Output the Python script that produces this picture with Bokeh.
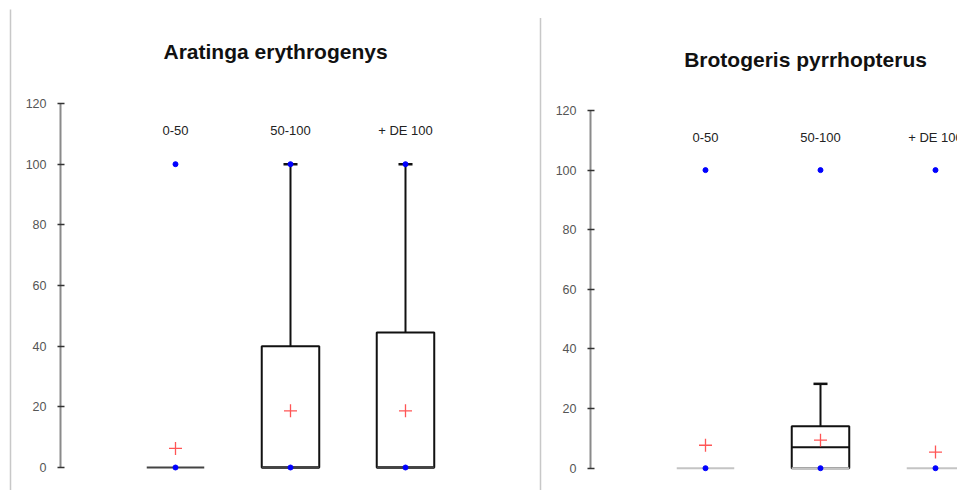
from bokeh.plotting import figure
from bokeh.layouts import row
from bokeh.models import LinearAxis, FixedTicker, Range1d
from bokeh.core.properties import value
from bokeh.embed import file_html
from bokeh.resources import INLINE

# Distance classes (m) shown on each panel
categories = ["0-50", "50-100", "+ DE 100"]
tick_values = [0, 20, 40, 60, 80, 100, 120]

# Aratinga erythrogenys: box-plot statistics per distance class
ara_q1 = [0, 0, 0]
ara_median = [0, 0, 0]
ara_q3 = [0, 40, 44.5]
ara_whisker_hi = [0, 100, 100]
ara_min = [0, 0, 0]
ara_max = [100, 100, 100]
ara_mean = [6.3, 18.7, 18.7]

# Brotogeris pyrrhopterus: box-plot statistics per distance class
bro_q1 = [0, 0, 0]
bro_median = [0, 7, 0]
bro_q3 = [0, 14.1, 0]
bro_whisker_hi = [0, 28.3, 0]
bro_min = [0, 0, 0]
bro_max = [100, 100, 100]
bro_mean = [7.7, 9.4, 5.4]

PX_PER_CAT = 115.0
X0 = -0.5217          # data x at the left edge of each canvas
BOX_HALF = 0.25
CAP_HALF = 0.061
FONT = "Liberation Sans"


def panel(title, q1, median, q3, whisker_hi, vmin, vmax, mean,
          width, y_range, base_color):
    xs = list(range(1, len(categories) + 1))
    p = figure(width=width, height=490,
               x_range=Range1d(X0, X0 + width / PX_PER_CAT),
               y_range=Range1d(*y_range),
               output_backend="svg", toolbar_location=None,
               x_axis_location=None, y_axis_location=None,
               min_border=0, outline_line_color=None,
               background_fill_color="white", border_fill_color="white")
    p.grid.visible = False

    # chart border on the left side
    bx = X0 + 10 / PX_PER_CAT
    p.segment(x0=[bx], y0=[151], x1=[bx], y1=[y_range[0]],
              line_color="#c8c8c8", line_width=1.5)

    ax = LinearAxis(fixed_location=0, bounds=(0, 120),
                    ticker=FixedTicker(ticks=tick_values),
                    axis_line_color="#8a8a8a", axis_line_width=2,
                    major_tick_line_color="#333333", major_tick_line_width=1.5,
                    major_tick_in=4, major_tick_out=3,
                    minor_tick_line_color=None,
                    major_label_text_font=FONT,
                    major_label_text_font_size="12.5px",
                    major_label_text_color="#555555",
                    major_label_standoff=11)
    p.add_layout(ax, "left")

    p.text(x=[1.87], y=[137], text=[title], text_align="center",
           text_baseline="alphabetic", text_font=value(FONT),
           text_font_style="bold", text_font_size="21px",
           text_color="#111111")
    p.text(x=xs, y=[111] * len(xs), text=categories, text_align="center",
           text_baseline="alphabetic", text_font=value(FONT),
           text_font_size="13px", text_color="#222222")

    # boxes (only where the interquartile range is not empty)
    bi = [i for i in range(len(xs)) if q3[i] > q1[i]]
    p.quad(left=[xs[i] - BOX_HALF for i in bi],
           right=[xs[i] + BOX_HALF for i in bi],
           bottom=[q1[i] for i in bi], top=[q3[i] for i in bi],
           fill_color=None, line_color="#111111", line_width=2)
    p.segment(x0=[xs[i] - BOX_HALF for i in bi], y0=[median[i] for i in bi],
              x1=[xs[i] + BOX_HALF for i in bi], y1=[median[i] for i in bi],
              line_color="#111111", line_width=2)

    # lower edge of every box
    p.segment(x0=[x - BOX_HALF for x in xs], y0=q1,
              x1=[x + BOX_HALF for x in xs], y1=q1,
              line_color=base_color, line_width=2)

    # upper whiskers with caps
    wi = [i for i in range(len(xs)) if whisker_hi[i] > q3[i]]
    p.segment(x0=[xs[i] for i in wi], y0=[q3[i] for i in wi],
              x1=[xs[i] for i in wi], y1=[whisker_hi[i] for i in wi],
              line_color="#111111", line_width=2)
    p.segment(x0=[xs[i] - CAP_HALF for i in wi], y0=[whisker_hi[i] for i in wi],
              x1=[xs[i] + CAP_HALF for i in wi], y1=[whisker_hi[i] for i in wi],
              line_color="#111111", line_width=2.5)

    # means
    p.scatter(x=xs, y=mean, marker="cross", size=13,
              line_color="#ff2a2a", line_width=1.3, line_alpha=0.8)
    # minimum and maximum
    p.scatter(x=xs + xs, y=vmin + vmax, marker="circle", size=5,
              fill_color="#0000ff", line_color="#0000ff")
    return p


left = panel("Aratinga erythrogenys", ara_q1, ara_median, ara_q3,
             ara_whisker_hi, ara_min, ara_max, ara_mean,
             530, (-7.582, 153.96), "#444444")
right = panel("Brotogeris pyrrhopterus", bro_q1, bro_median, bro_q3,
              bro_whisker_hi, bro_min, bro_max, bro_mean,
              427, (-7.48, 156.9), "#c4c4c4")

layout = row(left, right)
open("out.html", "w").write(file_html(layout, INLINE))
